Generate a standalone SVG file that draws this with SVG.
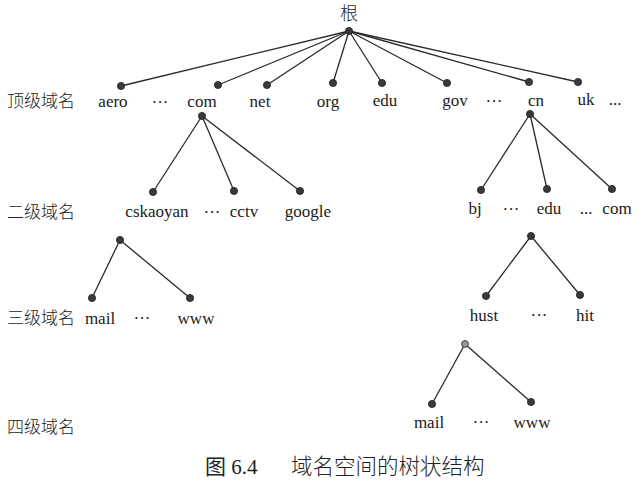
<svg xmlns="http://www.w3.org/2000/svg" width="643" height="484" viewBox="0 0 643 484">
<style>
  .bg { fill: #ffffff; }
  .e { stroke: #2a2a2a; stroke-width: 1.3; fill: none; }
  .d { fill: #3a3a3a; stroke: #222; stroke-width: 0.8; }
  .dl { fill: #9a9a9a; stroke: #333; stroke-width: 0.9; }
  .t { font-family: "Liberation Serif", "Noto Sans CJK SC", serif; font-size: 17px; fill: #1a1a1a; text-anchor: middle; }
  .cn { font-family: "Noto Sans CJK SC", "Liberation Serif", sans-serif; font-size: 17px; font-weight: 300; fill: #222; }
  .cap { font-family: "Liberation Serif", "Noto Sans CJK SC", serif; font-size: 21px; fill: #222; }
  .capcn { font-family: "Noto Sans CJK SC", serif; font-size: 21.5px; font-weight: 300; fill: #222; }
  .root { font-family: "Noto Sans CJK SC", serif; font-size: 18px; font-weight: 300; fill: #222; text-anchor: middle; }
</style>
<rect class="bg" x="0" y="0" width="643" height="484"/>

<g id="level-labels">
  <text class="cn" x="7" y="107">顶级域名</text>
  <text class="cn" x="7" y="218">二级域名</text>
  <text class="cn" x="7" y="324">三级域名</text>
  <text class="cn" x="7" y="433">四级域名</text>
</g>

<g id="connectors">
  <line class="e" x1="349" y1="31" x2="121" y2="86"/>
  <line class="e" x1="349" y1="31" x2="218" y2="85"/>
  <line class="e" x1="349" y1="31" x2="267" y2="85"/>
  <line class="e" x1="349" y1="31" x2="333" y2="83"/>
  <line class="e" x1="349" y1="31" x2="382" y2="83"/>
  <line class="e" x1="349" y1="31" x2="447" y2="83"/>
  <line class="e" x1="349" y1="31" x2="529" y2="82"/>
  <line class="e" x1="349" y1="31" x2="578" y2="82"/>
  <line class="e" x1="202" y1="116" x2="153" y2="192"/>
  <line class="e" x1="202" y1="116" x2="234" y2="191"/>
  <line class="e" x1="202" y1="116" x2="300" y2="191"/>
  <line class="e" x1="530" y1="114" x2="481" y2="190"/>
  <line class="e" x1="530" y1="114" x2="547" y2="189"/>
  <line class="e" x1="530" y1="114" x2="612" y2="189"/>
  <line class="e" x1="120" y1="240" x2="92" y2="298"/>
  <line class="e" x1="120" y1="240" x2="190" y2="298"/>
  <line class="e" x1="531" y1="236" x2="486" y2="296"/>
  <line class="e" x1="531" y1="236" x2="580" y2="295"/>
  <line class="e" x1="465" y1="344" x2="432" y2="404"/>
  <line class="e" x1="465" y1="344" x2="531" y2="402"/>
</g>

<g id="root"><circle class="d" cx="349" cy="31" r="3.6"/><text class="root" x="349" y="20">根</text></g>

<g id="aero"><circle class="d" cx="121" cy="86" r="3.6"/><text class="t" x="113" y="107">aero</text></g>
<g id="dots-top-1"><text class="t" x="160" y="108">···</text></g>
<g id="com"><circle class="d" cx="218" cy="85" r="3.6"/><text class="t" x="202" y="107">com</text><circle class="d" cx="202" cy="116" r="3.6"/></g>
<g id="net"><circle class="d" cx="267" cy="85" r="3.6"/><text class="t" x="260" y="107">net</text></g>
<g id="org"><circle class="d" cx="333" cy="83" r="3.6"/><text class="t" x="328" y="107">org</text></g>
<g id="edu"><circle class="d" cx="382" cy="83" r="3.6"/><text class="t" x="385" y="106">edu</text></g>
<g id="gov"><circle class="d" cx="447" cy="83" r="3.6"/><text class="t" x="455" y="106">gov</text></g>
<g id="dots-top-2"><text class="t" x="494" y="107">···</text></g>
<g id="cn"><circle class="d" cx="529" cy="82" r="3.6"/><text class="t" x="536" y="106">cn</text><circle class="d" cx="530" cy="114" r="3.6"/></g>
<g id="uk"><circle class="d" cx="578" cy="82" r="3.6"/><text class="t" x="586" y="105">uk</text></g>
<g id="dots-top-3"><text class="t" x="615" y="105">...</text></g>

<g id="cskaoyan"><circle class="d" cx="153" cy="192" r="3.6"/><text class="t" x="157" y="217">cskaoyan</text><circle class="d" cx="120" cy="240" r="3.6"/></g>
<g id="dots-2-1"><text class="t" x="212" y="218">···</text></g>
<g id="cctv"><circle class="d" cx="234" cy="191" r="3.6"/><text class="t" x="244" y="217">cctv</text></g>
<g id="google"><circle class="d" cx="300" cy="191" r="3.6"/><text class="t" x="308" y="217">google</text></g>

<g id="bj"><circle class="d" cx="481" cy="190" r="3.6"/><text class="t" x="475" y="214">bj</text></g>
<g id="dots-2-2"><text class="t" x="511" y="215">···</text></g>
<g id="edu-cn"><circle class="d" cx="547" cy="189" r="3.6"/><text class="t" x="549" y="214">edu</text><circle class="d" cx="531" cy="236" r="3.6"/></g>
<g id="dots-2-3"><text class="t" x="586" y="214">...</text></g>
<g id="com-cn"><circle class="d" cx="612" cy="189" r="3.6"/><text class="t" x="617" y="214">com</text></g>

<g id="mail-3"><circle class="d" cx="92" cy="298" r="3.6"/><text class="t" x="100" y="324">mail</text></g>
<g id="dots-3-1"><text class="t" x="142" y="324">···</text></g>
<g id="www-3"><circle class="d" cx="190" cy="298" r="3.6"/><text class="t" x="196" y="324">www</text></g>

<g id="hust"><circle class="d" cx="486" cy="296" r="3.6"/><text class="t" x="484" y="321">hust</text><circle class="dl" cx="465" cy="344" r="3.4"/></g>
<g id="dots-3-2"><text class="t" x="539" y="321">···</text></g>
<g id="hit"><circle class="d" cx="580" cy="295" r="3.6"/><text class="t" x="585" y="321">hit</text></g>

<g id="mail-4"><circle class="d" cx="432" cy="404" r="3.6"/><text class="t" x="429" y="428">mail</text></g>
<g id="dots-4-1"><text class="t" x="481" y="428">···</text></g>
<g id="www-4"><circle class="d" cx="531" cy="402" r="3.6"/><text class="t" x="532" y="428">www</text></g>

<g id="caption"><text class="cap" x="205" y="474">图 6.4</text><text class="capcn" x="291" y="474">域名空间的树状结构</text></g>
</svg>
